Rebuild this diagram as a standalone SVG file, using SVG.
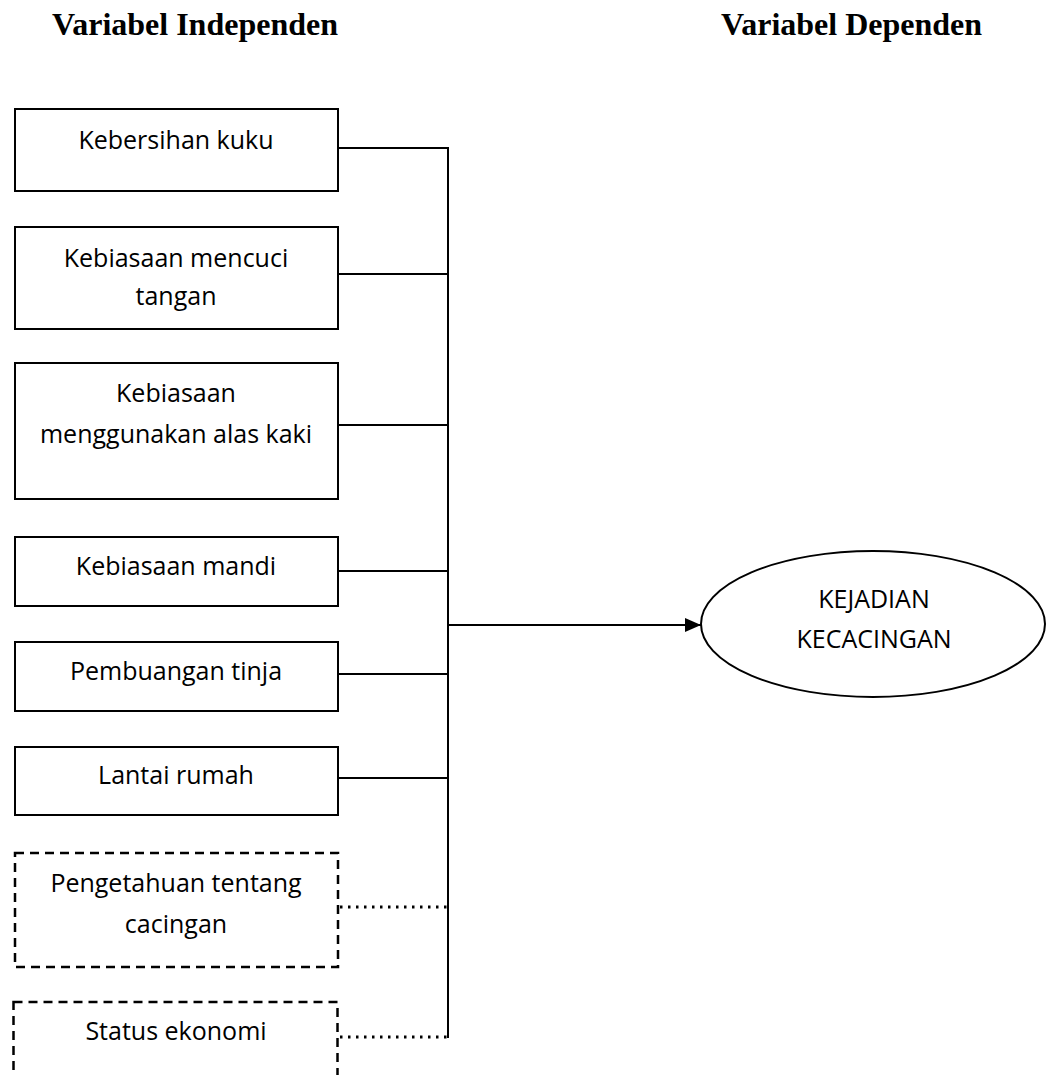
<svg xmlns="http://www.w3.org/2000/svg" width="1046" height="1075" viewBox="0 0 1046 1075">
  <style>
    .box { fill: #ffffff; stroke: #000000; stroke-width: 2; }
    .dbox { fill: #ffffff; stroke: #000000; stroke-width: 2.5; stroke-dasharray: 9 6; }
    .lbl { font-family: "Open Sans", "Liberation Sans", sans-serif; font-size: 25px; fill: #000000; text-anchor: middle; }
    .title { font-family: "Liberation Serif", "Times New Roman", serif; font-size: 32px; font-weight: bold; fill: #000000; }
    .ln { fill: none; stroke: #000000; stroke-width: 2; }
    .dot { fill: none; stroke: #000000; stroke-width: 3; stroke-dasharray: 2.5 5.5; }
  </style>
  <defs>
    <marker id="arr" markerWidth="16" markerHeight="14" refX="16" refY="7" orient="auto" markerUnits="userSpaceOnUse">
      <path d="M0,0 L16,7 L0,14 Z" fill="#000000"/>
    </marker>
  </defs>
  <rect width="1046" height="1075" fill="#ffffff"/>

  <g id="titles">
    <text class="title" x="52" y="35">Variabel Independen</text>
    <text class="title" x="721" y="35">Variabel Dependen</text>
  </g>

  <g id="connectors">
    <line class="ln" x1="338" y1="148" x2="448" y2="148"/>
    <line class="ln" x1="338" y1="274" x2="448" y2="274"/>
    <line class="ln" x1="338" y1="425" x2="448" y2="425"/>
    <line class="ln" x1="338" y1="571" x2="448" y2="571"/>
    <line class="ln" x1="338" y1="674" x2="448" y2="674"/>
    <line class="ln" x1="338" y1="778" x2="448" y2="778"/>
    <line class="dot" x1="340" y1="907" x2="448" y2="907"/>
    <line class="dot" x1="340" y1="1037" x2="448" y2="1037"/>
    <line class="ln" x1="448" y1="147" x2="448" y2="1038"/>
    <line class="ln" x1="448" y1="625" x2="701" y2="625" stroke-width="2.5" marker-end="url(#arr)"/>
  </g>

  <g id="n1">
    <rect class="box" x="15" y="109" width="323" height="82"/>
    <text class="lbl" x="176" y="149">Kebersihan kuku</text>
  </g>
  <g id="n2">
    <rect class="box" x="15" y="227" width="323" height="102"/>
    <text class="lbl" x="176" y="267">Kebiasaan mencuci</text>
    <text class="lbl" x="176" y="305">tangan</text>
  </g>
  <g id="n3">
    <rect class="box" x="15" y="363" width="323" height="136"/>
    <text class="lbl" x="176" y="402">Kebiasaan</text>
    <text class="lbl" x="176" y="443">menggunakan alas kaki</text>
  </g>
  <g id="n4">
    <rect class="box" x="15" y="537" width="323" height="69"/>
    <text class="lbl" x="176" y="575">Kebiasaan mandi</text>
  </g>
  <g id="n5">
    <rect class="box" x="15" y="642" width="323" height="69"/>
    <text class="lbl" x="176" y="680">Pembuangan tinja</text>
  </g>
  <g id="n6">
    <rect class="box" x="15" y="747" width="323" height="68"/>
    <text class="lbl" x="176" y="784">Lantai rumah</text>
  </g>
  <g id="n7">
    <rect class="dbox" x="15" y="853" width="323" height="114"/>
    <text class="lbl" x="176" y="892">Pengetahuan tentang</text>
    <text class="lbl" x="176" y="933">cacingan</text>
  </g>
  <g id="n8">
    <rect class="dbox" x="13.5" y="1002" width="324" height="100"/>
    <text class="lbl" x="176" y="1040">Status ekonomi</text>
  </g>
  <g id="n9">
    <ellipse cx="873" cy="624" rx="172" ry="73" fill="#ffffff" stroke="#000000" stroke-width="2"/>
    <text class="lbl" x="874" y="608">KEJADIAN</text>
    <text class="lbl" x="874" y="648">KECACINGAN</text>
  </g>
</svg>
